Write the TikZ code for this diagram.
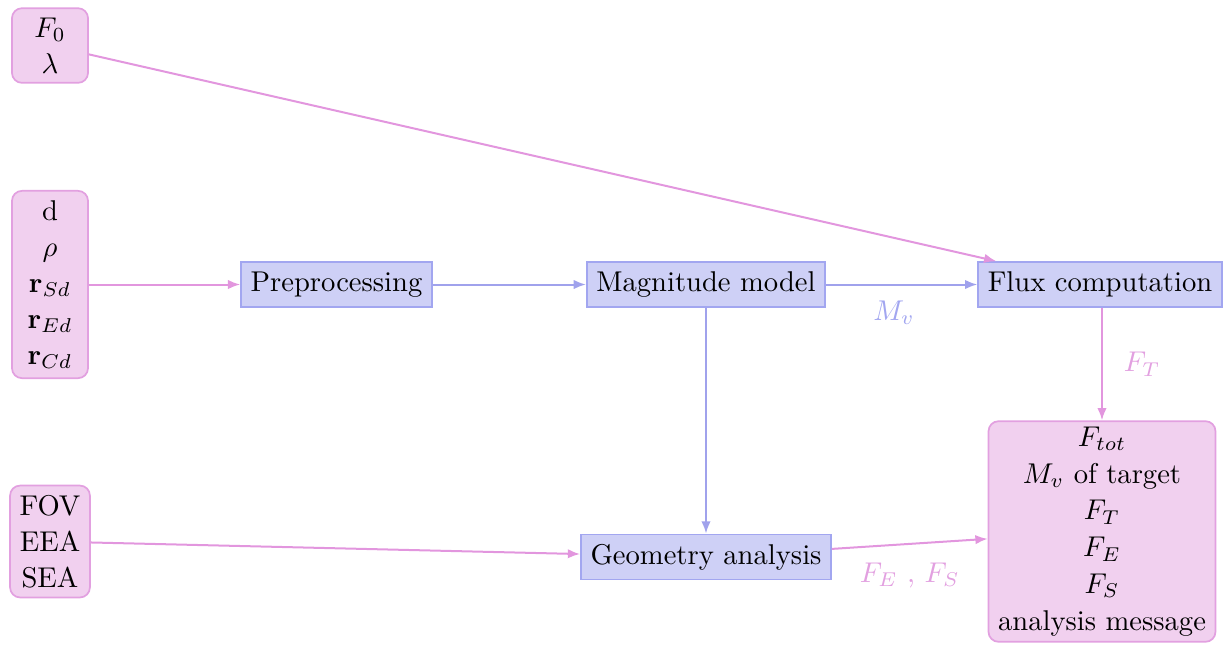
\documentclass[tikz,border=0pt]{standalone}
\usetikzlibrary{arrows.meta,calc}
\definecolor{pinkfill}{RGB}{241,208,239}
\definecolor{pinkdraw}{RGB}{226,160,224}
\definecolor{pinkline}{RGB}{226,150,222}
\definecolor{bluefill}{RGB}{206,208,246}
\definecolor{bluedraw}{RGB}{162,166,240}
\definecolor{blueline}{RGB}{160,162,236}
\tikzset{
  inbox/.style={draw=pinkdraw, fill=pinkfill, rounded corners=3.5pt, align=center,
    minimum width=26.6pt, font=\fontsize{10}{12.6}\selectfont, semithick},
  procbox/.style={draw=bluedraw, fill=bluefill, semithick, minimum height=15.7pt},
  parrow/.style={draw=pinkline, line width=0.7pt, -{Latex[length=4.3pt,width=3.3pt]}},
  barrow/.style={draw=blueline, line width=0.7pt, -{Latex[length=4.3pt,width=3.3pt]}},
  plabel/.style={text=pinkdraw},
  blabel/.style={text=bluedraw},
}
\begin{document}
\begin{tikzpicture}[x=0.3497pt, y=-0.3497pt]
\useasboundingbox (0,0) rectangle (1223,644);
\node[inbox] (F0) at (50,45.5) {$F_0$\\$\lambda$};
\node[inbox] (D) at (50,284.5) {d\\$\rho$\\$\mathbf{r}_{Sd}$\\$\mathbf{r}_{Ed}$\\$\mathbf{r}_{Cd}$};
\node[inbox] (FOV) at (50,541.5) {FOV\\EEA\\SEA};
\node[procbox] (pre) at (336.5,284.5) {Preprocessing};
\node[procbox] (mag) at (706,284.5) {Magnitude model};
\node[procbox] (flux) at (1100,284.5) {Flux computation};
\node[procbox] (geo) at (706,557) {Geometry analysis};
\node[inbox, inner ysep=2pt, font=\fontsize{10}{12.85}\selectfont] (out) at (1102,531.5) {$F_{tot}$\\$M_v$ of target\\$F_T$\\$F_E$\\$F_S$\\analysis message};
\coordinate (fluxin) at ($(flux.north west)+(19,0)$);
\draw[parrow] (F0) -- (fluxin);
\draw[parrow] (D) -- (pre);
\draw[barrow] (pre) -- (mag);
\draw[barrow] (mag) -- node[blabel, below=2pt, pos=0.45] {$M_v$} (flux);
\draw[barrow] (mag) -- (geo);
\draw[parrow] (flux.south -| out.north) -- node[plabel, right=4pt] {$F_T$} (out.north);
\draw[parrow] (FOV) -- (geo);
\draw[parrow] (geo) -- node[plabel, below=3pt, pos=0.5] {$F_E$ , $F_S$} (out);
\end{tikzpicture}
\end{document}
